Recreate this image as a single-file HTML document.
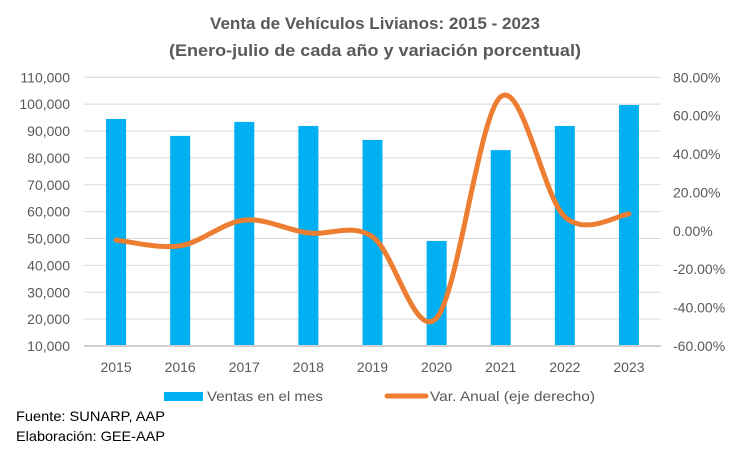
<!DOCTYPE html>
<html><head><meta charset="utf-8"><style>
body{margin:0;background:#fff;font-family:"Liberation Sans",sans-serif;}
svg text{font-family:"Liberation Sans",sans-serif;}
</style></head><body>
<svg id="chart" width="750" height="450" xmlns="http://www.w3.org/2000/svg">
<text x="375" y="29" text-anchor="middle" font-size="17" font-weight="bold" fill="#595959" textLength="330" lengthAdjust="spacingAndGlyphs">Venta de Vehículos Livianos: 2015 - 2023</text>
<text x="375" y="56" text-anchor="middle" font-size="17" font-weight="bold" fill="#595959" textLength="412" lengthAdjust="spacingAndGlyphs">(Enero-julio de cada año y variación porcentual)</text>
<g id="grid"></g><g id="bars"></g><g id="line"></g><g id="axes"></g>
<rect x="164" y="392" width="39" height="9" fill="#00b0f0"/>
<text x="207" y="401" font-size="14" fill="#595959" textLength="116" lengthAdjust="spacingAndGlyphs">Ventas en el mes</text>
<line x1="387" y1="396" x2="426" y2="396" stroke="#ed7d31" stroke-width="5" stroke-linecap="round"/>
<text x="430" y="401" font-size="14" fill="#595959" textLength="165" lengthAdjust="spacingAndGlyphs">Var. Anual (eje derecho)</text>
<text x="16" y="421" font-size="14" fill="#000" textLength="149" lengthAdjust="spacingAndGlyphs">Fuente: SUNARP, AAP</text>
<text x="16" y="441" font-size="14" fill="#000" textLength="149" lengthAdjust="spacingAndGlyphs">Elaboración: GEE-AAP</text>
</svg>
<script>
const categories=["2015","2016","2017","2018","2019","2020","2021","2022","2023"];
const ventas=[94500,88200,93400,91900,86700,49100,82900,91900,99700];
const variacion=[-4.8,-7.8,5.6,-1.1,-3.1,-45.4,69.9,7.3,8.8];
const leftTicks=[10000,20000,30000,40000,50000,60000,70000,80000,90000,100000,110000];
const rightTicks=[-60,-40,-20,0,20,40,60,80];
const NS="http://www.w3.org/2000/svg";
const X0=84,X1=661,YT=77.3,YB=346;
const step=(X1-X0)/categories.length;
const xC=i=>X0+step*(i+0.5);
const yL=v=>YB-(v-10000)/100000*(YB-YT);
const yR=v=>YB-(v+60)/140*(YB-YT);
function mk(tag,attrs,parent){const e=document.createElementNS(NS,tag);for(const k in attrs)e.setAttribute(k,attrs[k]);document.getElementById(parent).appendChild(e);return e;}
leftTicks.forEach((t,i)=>{
 const g=mk("line",{x1:X0,x2:X1,y1:yL(t),y2:yL(t),stroke:i==0?"#d0d0d0":"#d9d9d9","stroke-width":i==0?2:1},"grid");
 
 
 const tx=mk("text",{x:70,y:yL(t)+5,"text-anchor":"end","font-size":14,fill:"#595959"},"axes");
 tx.textContent=t.toLocaleString("en-US");
 
 
});
rightTicks.forEach(t=>{
 const tx=mk("text",{x:673,y:yR(t)+5,"font-size":14,fill:"#595959"},"axes");
 tx.textContent=t.toFixed(2)+"%";
 
 
});
categories.forEach((c,i)=>{
 const b=mk("rect",{x:xC(i)-10,y:yL(ventas[i]),width:20,height:YB-1-yL(ventas[i]),fill:"#00b0f0"},"bars");
 
 
 const tx=mk("text",{x:xC(i),y:372,"text-anchor":"middle","font-size":14,fill:"#595959"},"axes");
 tx.textContent=c;
 
 
});
const pts=variacion.map((v,i)=>[xC(i),yR(v)]);
let d="M"+pts[0][0]+","+pts[0][1];
for(let i=0;i<pts.length-1;i++){
 const p0=pts[Math.max(0,i-1)],p1=pts[i],p2=pts[i+1],p3=pts[Math.min(pts.length-1,i+2)];
 const c1=[p1[0]+(p2[0]-p0[0])/6,p1[1]+(p2[1]-p0[1])/6];
 const c2=[p2[0]-(p3[0]-p1[0])/6,p2[1]-(p3[1]-p1[1])/6];
 d+=` C${c1[0]},${c1[1]} ${c2[0]},${c2[1]} ${p2[0]},${p2[1]}`;
}
const ln=mk("path",{d:d,fill:"none",stroke:"#ed7d31","stroke-width":5,"stroke-linecap":"round"},"line");


</script>
</body></html>
